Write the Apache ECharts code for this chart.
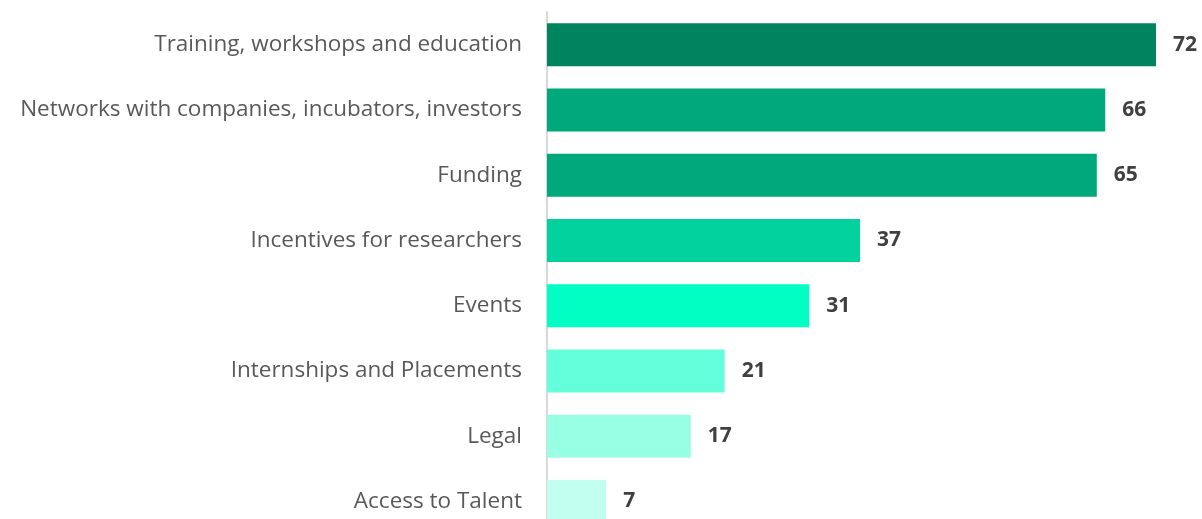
<!DOCTYPE html>
<html>
<head>
<meta charset="utf-8">
<script src="https://cdn.jsdelivr.net/npm/echarts@6/dist/echarts.min.js"></script>
<style>
  html, body { margin: 0; padding: 0; background: #fff; overflow: hidden; }
  #chart { width: 1202px; height: 545px; }
</style>
</head>
<body>
<div id="chart"></div>
<script>
// categories, top to bottom
var categories = [
  'Training, workshops and education',
  'Networks with companies, incubators, investors',
  'Funding',
  'Incentives for researchers',
  'Events',
  'Internships and Placements',
  'Legal',
  'Access to Talent'
];
var counts = [72, 66, 65, 37, 31, 21, 17, 7];
var barColors = ['#00845f', '#00a87b', '#00a87b', '#00d19d', '#00ffc2', '#63ffda', '#99ffe4', '#c3fff0'];

var chart = echarts.init(document.getElementById('chart'));

var option = {
  animation: false,
  grid: {
    left: 547,
    right: 46,
    top: 12,
    bottom: 11,
    containLabel: false
  },
  xAxis: {
    type: 'value',
    min: 0,
    max: 72,
    show: false
  },
  yAxis: {
    type: 'category',
    inverse: true,
    data: categories,
    axisLine: { show: true, lineStyle: { color: '#d9d9d9', width: 2 } },
    axisTick: { show: false },
    axisLabel: {
      margin: 25,
      color: '#595959',
      fontFamily: 'Open Sans',
      fontSize: 22.5
    }
  },
  series: [{
    type: 'bar',
    data: counts.map(function (v, i) {
      return { value: v, itemStyle: { color: barColors[i] } };
    }),
    barWidth: 43,
    label: {
      show: true,
      position: 'right',
      distance: 17,
      color: '#404040',
      fontFamily: 'Open Sans',
      fontWeight: 'bold',
      fontSize: 21
    }
  }]
};
chart.setOption(option);
</script>
</body>
</html>
